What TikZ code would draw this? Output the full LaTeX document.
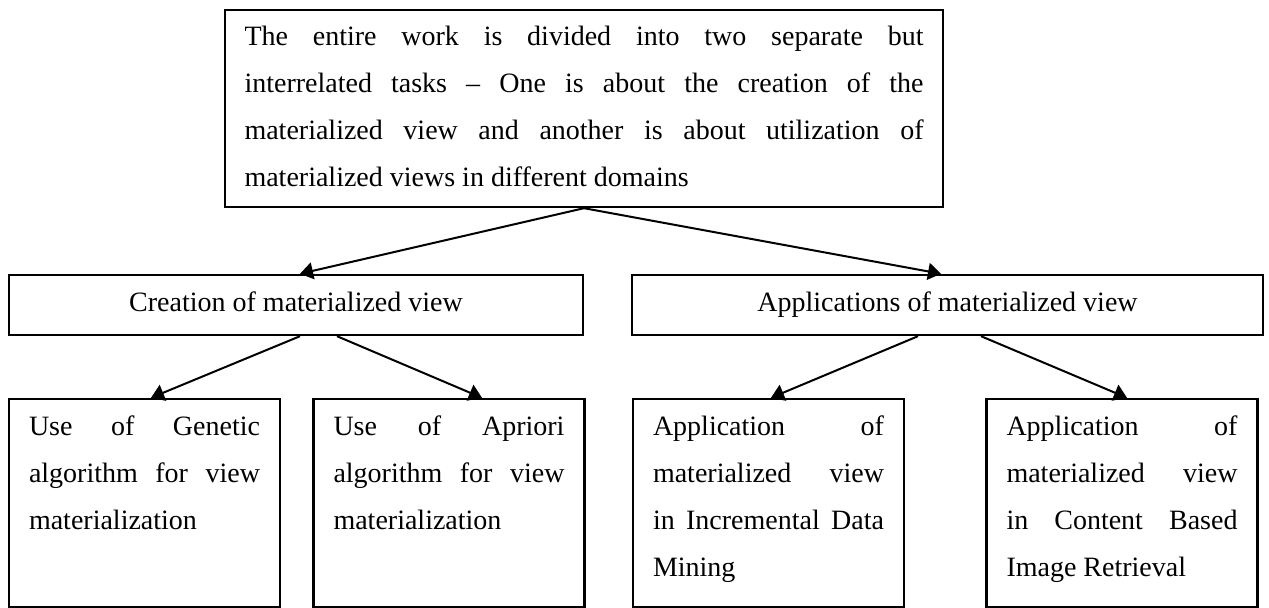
\documentclass[tikz,border=0pt]{standalone}
\usepackage{fontspec}
\setmainfont{Liberation Serif}
\usetikzlibrary{arrows.meta}
\tikzset{taskbox/.style={draw,line width=1.2pt,inner sep=0pt},
  link/.style={line width=1pt,-{Triangle[length=6.5pt,width=8.5pt]}}}
\newcommand{\leafbox}[1]{\parbox[c][87pt][t]{115.5pt}{#1}}

\begin{document}
\begin{tikzpicture}[x=0.5pt,y=-0.5pt,font=\fontsize{14}{23.5}\selectfont]
  \useasboundingbox (0,0) rectangle (1269,608);
  \node[taskbox,inner xsep=9.75pt,inner ysep=8pt] (work) at (584,108.5)
    {\parbox[c][82.5pt][t]{339.5pt}{The entire work is divided into two separate but\linebreak
     interrelated tasks -- One is about the creation of the\linebreak
     materialized view and another is about utilization of\linebreak
     materialized views in different domains}};
  \node[taskbox,minimum width=287pt,minimum height=30pt,text height=9.6pt,text depth=3pt] (creation) at (296,305) {Creation of materialized view};
  \node[taskbox,minimum width=315.5pt,minimum height=30pt,text height=9.6pt,text depth=3pt] (applications) at (947.5,305) {Applications of materialized view};
  \foreach \n/\x/\t in {genetic/144.5/{Use of Genetic\linebreak algorithm for view\linebreak materialization},
                        apriori/449/{Use of Apriori\linebreak algorithm for view\linebreak materialization},
                        incremental/768.5/{Application of\linebreak materialized view\linebreak in Incremental Data\linebreak Mining},
                        cbir/1122/{Application of\linebreak materialized view\linebreak in Content Based\linebreak Image Retrieval}}
    \node[taskbox,inner xsep=10pt,inner ysep=8.5pt] (\n) at (\x,503) {\leafbox{\t}};
  \draw[link] (work.south) -- ([xshift=2pt]creation.north);
  \draw[link] (work.south) -- ([xshift=-3.25pt]applications.north);
  \draw[link] ([xshift=2pt]creation.south) -- ([xshift=3.25pt]genetic.north);
  \draw[link] ([xshift=20.5pt]creation.south) -- ([xshift=16.5pt]apriori.north);
  \draw[link] ([xshift=-14.75pt]applications.south) -- ([xshift=1.25pt]incremental.north);
  \draw[link] ([xshift=16.75pt]applications.south) -- ([xshift=2.5pt]cbir.north);
\end{tikzpicture}
\end{document}
